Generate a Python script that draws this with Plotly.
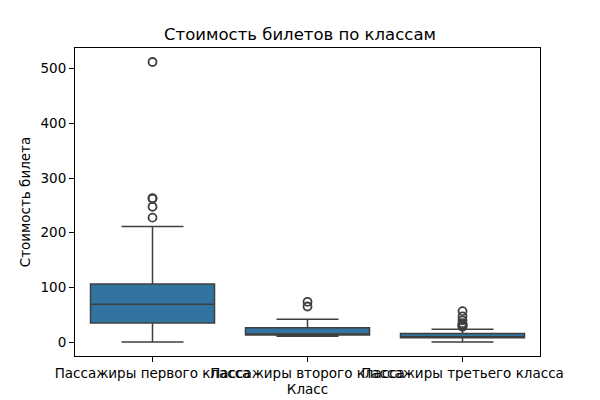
import plotly.graph_objects as go

classes = ["Пассажиры первого класса", "Пассажиры второго класса", "Пассажиры третьего класса"]
q1 = [35.0, 13.0, 7.9]
median = [69.3, 14.25, 8.05]
q3 = [106.0, 26.0, 15.5]
lower = [0.0, 10.5, 0.0]
upper = [211.3, 41.6, 23.45]
outliers = [
    [227.5, 247.5, 262.4, 263.0, 512.3],
    [65.0, 73.5],
    [27.9, 29.1, 31.3, 31.4, 34.4, 39.7, 46.9, 56.5],
]

fill = "#3274a1"
edge = "#3f3f3f"

fig = go.Figure()
for i, c in enumerate(classes):
    fig.add_trace(go.Box(
        x=[c], q1=[q1[i]], median=[median[i]], q3=[q3[i]],
        lowerfence=[lower[i]], upperfence=[upper[i]],
        fillcolor=fill, line=dict(color=edge, width=1.5),
        width=0.8, whiskerwidth=0.5, boxpoints=False, showlegend=False,
    ))
    fig.add_trace(go.Scatter(
        x=[c] * len(outliers[i]), y=outliers[i], mode="markers",
        marker=dict(symbol="circle-open", size=8, color=edge, line=dict(width=1.8, color=edge)),
        showlegend=False,
    ))

axis_common = dict(showline=True, linecolor="black", linewidth=1, mirror=True,
                   ticks="outside", ticklen=5, tickcolor="black", showgrid=False,
                   zeroline=False, automargin=False, tickfont=dict(size=13.5, color="black"))
fig.update_layout(
    width=600, height=400,
    margin=dict(l=75, r=60, t=48, b=44),
    paper_bgcolor="white", plot_bgcolor="white",
    font=dict(family="DejaVu Sans", color="black"),
    title=dict(text="Стоимость билетов по классам", x=0.5, xanchor="center",
               y=1 - 34 / 400, yanchor="middle", font=dict(size=16.5, color="black")),
    xaxis=dict(**axis_common, tickangle=0, range=[-0.5, 2.5],
               categoryorder="array", categoryarray=classes,
               title=dict(text="Класс", font=dict(size=13.5), standoff=4)),
    yaxis=dict(**axis_common, range=[-25.6, 537.9], tickvals=[0, 100, 200, 300, 400, 500],
               title=dict(text="Стоимость билета", font=dict(size=13.5), standoff=6)),
)
fig.write_html("out.html")
